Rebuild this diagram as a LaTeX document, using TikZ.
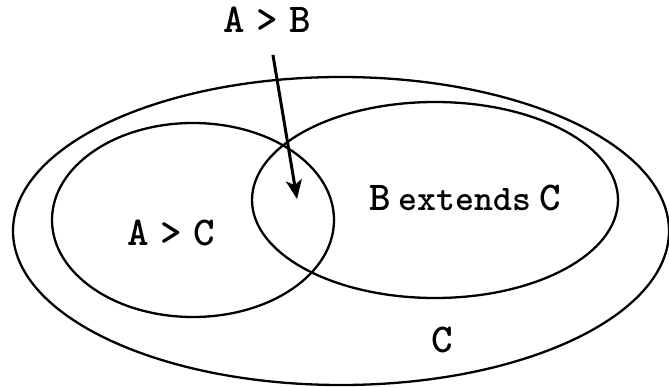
\documentclass[tikz,border=0pt]{standalone}
\usepackage{fontspec}
\newfontfamily\ttheavy{lmmonolt10-bold.otf}
\usetikzlibrary{arrows.meta}
\newcommand{\rgap}{\hspace{.28em}}
\tikzset{lbl/.style={font=\ttheavy\fontsize{41}{44}\selectfont,inner sep=0pt,anchor=base},
  setline/.style={draw,line width=2.3pt}}

\begin{document}
\begin{tikzpicture}[x=1pt,y=-1pt]
\useasboundingbox(0,0)rectangle(669,388);
\draw[setline](341,231)ellipse[x radius=328pt,y radius=154pt];
\draw[setline](193,220)ellipse[x radius=141pt,y radius=97pt];\draw[setline](435,200)ellipse[x radius=183pt,y radius=98pt];
\node[lbl](ab)at(267,32){A\rgap>\rgap B};\coordinate(tip)at(297,199);
\draw[line width=3pt,-{Stealth[length=19pt,width=16pt,inset=5pt]},shorten <=23pt](ab)--(tip);
\node[lbl](ac)at(171,245){A\rgap>\rgap C};
\node[lbl](bc)at(465,210){B\hspace{.2em}{\fontsize{36}{40}\selectfont extends}\hspace{.2em}C};
\node[lbl](c)at(442,352){C};
\end{tikzpicture}
\end{document}
